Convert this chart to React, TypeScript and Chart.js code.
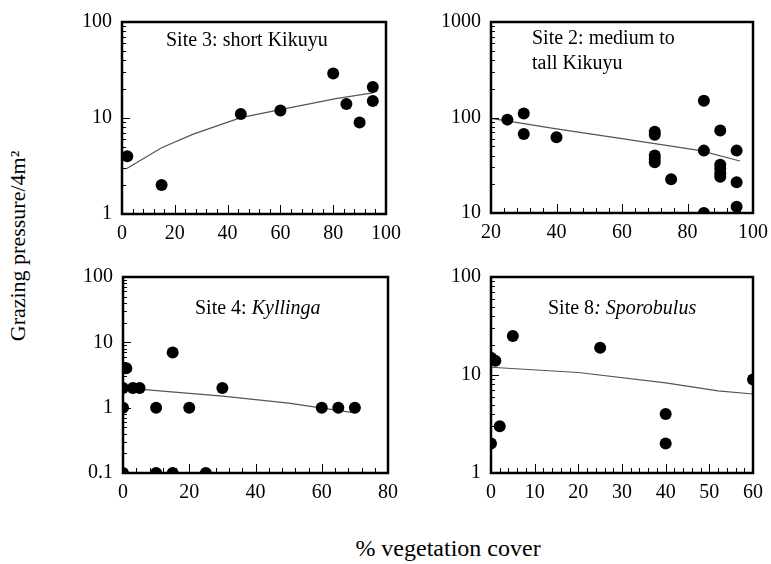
import React, { useEffect, useRef } from "react";
import { Chart, registerables } from "chart.js";

Chart.register(...registerables);

// ---------- data ----------
// Site 3: short Kikuyu
const site3X = [2, 15, 45, 60, 80, 85, 90, 95, 95];
const site3Y = [4, 2, 11, 12, 29, 14, 9, 21, 15];
const site3FitX = [1.5, 15, 27, 45, 60, 81, 95];
const site3FitY = [2.95, 4.9, 6.8, 10.1, 12.2, 15.9, 18.3];
const site3XTicks = [0, 20, 40, 60, 80, 100];
const site3YTicks = [1, 10, 100];

// Site 2: medium to tall Kikuyu
const site2X = [25, 30, 30, 40, 70, 70, 70, 70, 70, 75, 85, 85, 85, 90, 90, 90, 90, 90, 95, 95, 95];
const site2Y = [95, 110, 67, 62, 71, 66, 40, 37, 34, 22.5, 150, 45, 10, 73, 32, 29, 26, 24, 45, 21, 11.6];
const site2FitX = [20, 40, 60, 84, 96];
const site2FitY = [98, 76, 60, 45, 35];
const site2XTicks = [20, 40, 60, 80, 100];
const site2YTicks = [10, 100, 1000];

// Site 4: Kyllinga
const site4X = [1, 0, 0, 3, 5, 10, 15, 20, 30, 60, 65, 70, 0, 10, 15, 25];
const site4Y = [4, 2, 1, 2, 2, 1, 7, 1, 2, 1, 1, 1, 0.1, 0.1, 0.1, 0.1];
const site4FitX = [2, 30, 50, 70];
const site4FitY = [1.98, 1.5, 1.17, 0.83];
const site4XTicks = [0, 20, 40, 60, 80];
const site4YTicks = [0.1, 1, 10, 100];

// Site 8: Sporobulus
const site8X = [0, 1, 0, 2, 5, 25, 40, 40, 60];
const site8Y = [15, 14, 2, 3, 25, 19, 4, 2, 9];
const site8FitX = [0, 20, 40, 52, 60];
const site8FitY = [12, 10.6, 8.3, 6.9, 6.4];
const site8XTicks = [0, 10, 20, 30, 40, 50, 60];
const site8YTicks = [1, 10, 100];

const FONT = '"Liberation Serif", "Times New Roman", serif';

const framePlugin = {
  id: "frame",
  afterDatasetsDraw(chart: any, _args: any, opts: any) {
    const { ctx, chartArea: a, scales } = chart;
    const x = scales.x;
    const y = scales.y;
    ctx.save();
    ctx.strokeStyle = "#000";
    ctx.lineWidth = 1;
    ctx.beginPath();
    const xMinor = opts.xMinor;
    const xMajor = opts.xMajor;
    const n = Math.round((x.max - x.min) / xMinor);
    for (let i = 0; i <= n; i++) {
      const v = x.min + i * xMinor;
      const px = Math.round(x.getPixelForValue(v)) + 0.5;
      const r = (v - x.min) / xMajor;
      const major = Math.abs(r - Math.round(r)) < 1e-6;
      const len = major ? 9 : 5;
      ctx.moveTo(px, a.bottom);
      ctx.lineTo(px, a.bottom - len);
    }
    for (let dec = y.min; dec < y.max * 0.999; dec *= 10) {
      for (let k = 1; k <= 9; k++) {
        const v = dec * k;
        const py = Math.round(y.getPixelForValue(v)) + 0.5;
        const len = k === 1 ? 8 : 4;
        ctx.moveTo(a.left, py);
        ctx.lineTo(a.left + len, py);
      }
    }
    ctx.stroke();
    ctx.lineWidth = 2.5;
    ctx.strokeRect(a.left, a.top, a.right - a.left, a.bottom - a.top);
    ctx.restore();
  },
};

type PanelProps = {
  left: number;
  top: number;
  width: number;
  height: number;
  area: { l: number; t: number; r: number; b: number };
  xs: number[];
  ys: number[];
  fitX: number[];
  fitY: number[];
  xTicks: number[];
  yTicks: number[];
  xMinor: number;
};

function Panel(p: PanelProps) {
  const ref = useRef<HTMLCanvasElement | null>(null);
  useEffect(() => {
    if (!ref.current) return;
    const yAxisW = p.area.l - p.left;
    const xAxisH = p.top + p.height - p.area.b;
    const padTop = p.area.t - p.top;
    const padRight = p.left + p.width - p.area.r;
    const xMin = p.xTicks[0];
    const xMax = p.xTicks[p.xTicks.length - 1];
    const yMin = p.yTicks[0];
    const yMax = p.yTicks[p.yTicks.length - 1];
    const tickFont = { family: FONT, size: 20 };
    const chart = new Chart(ref.current, {
      type: "scatter",
      data: {
        datasets: [
          {
            data: p.xs.map((v, i) => ({ x: v, y: p.ys[i] })),
            showLine: false,
            pointRadius: 6,
            pointBackgroundColor: "#000",
            pointBorderWidth: 0,
            pointHoverRadius: 6,
            clip: 0,
            order: 0,
          },
          {
            data: p.fitX.map((v, i) => ({ x: v, y: p.fitY[i] })),
            showLine: true,
            pointRadius: 0,
            borderColor: "#555",
            borderWidth: 1.2,
            tension: 0,
            clip: 0,
            order: 1,
          },
        ],
      } as any,
      options: {
        responsive: false,
        animation: false,
        events: [],
        layout: { autoPadding: false, padding: { top: padTop, right: padRight, left: 0, bottom: 0 } },
        plugins: {
          legend: { display: false },
          tooltip: { enabled: false },
          frame: { xMinor: p.xMinor, xMajor: p.xTicks[1] - p.xTicks[0] },
        } as any,
        scales: {
          x: {
            type: "linear",
            min: xMin,
            max: xMax,
            afterBuildTicks: (ax: any) => {
              ax.ticks = p.xTicks.map((v) => ({ value: v }));
            },
            afterFit: (s: any) => {
              s.height = xAxisH;
            },
            grid: { display: false, drawTicks: false },
            border: { display: false },
            ticks: {
              font: tickFont,
              color: "#000",
              padding: 8,
              maxRotation: 0,
              autoSkip: false,
              callback: (v: any) => String(v),
            },
          },
          y: {
            type: "logarithmic",
            min: yMin,
            max: yMax,
            afterBuildTicks: (ax: any) => {
              ax.ticks = p.yTicks.map((v) => ({ value: v }));
            },
            afterFit: (s: any) => {
              s.width = yAxisW;
            },
            grid: { display: false, drawTicks: false },
            border: { display: false },
            ticks: {
              font: tickFont,
              color: "#000",
              padding: 10,
              autoSkip: false,
              callback: (v: any) => String(v),
            },
          },
        } as any,
      },
      plugins: [framePlugin],
    });
    return () => chart.destroy();
  }, []);
  return (
    <canvas
      ref={ref}
      width={p.width}
      height={p.height}
      style={{ position: "absolute", left: p.left, top: p.top, width: p.width, height: p.height }}
    />
  );
}

export default function App() {
  const titleStyle: React.CSSProperties = {
    position: "absolute",
    fontSize: 20,
    lineHeight: "25px",
    whiteSpace: "nowrap",
  };
  return (
    <div
      style={{
        position: "absolute",
        left: 0,
        top: 0,
        width: 771,
        height: 564,
        overflow: "hidden",
        background: "#fff",
        fontFamily: FONT,
        color: "#000",
      }}
    >
      <Panel
        left={40}
        top={0}
        width={380}
        height={250}
        area={{ l: 122, t: 19, r: 386, b: 214 }}
        xs={site3X}
        ys={site3Y}
        fitX={site3FitX}
        fitY={site3FitY}
        xTicks={site3XTicks}
        yTicks={site3YTicks}
        xMinor={4}
      />
      <Panel
        left={420}
        top={0}
        width={370}
        height={250}
        area={{ l: 491, t: 17, r: 753, b: 213 }}
        xs={site2X}
        ys={site2Y}
        fitX={site2FitX}
        fitY={site2FitY}
        xTicks={site2XTicks}
        yTicks={site2YTicks}
        xMinor={4}
      />
      <Panel
        left={40}
        top={255}
        width={380}
        height={255}
        area={{ l: 123, t: 277, r: 388, b: 473 }}
        xs={site4X}
        ys={site4Y}
        fitX={site4FitX}
        fitY={site4FitY}
        xTicks={site4XTicks}
        yTicks={site4YTicks}
        xMinor={4}
      />
      <Panel
        left={420}
        top={255}
        width={370}
        height={255}
        area={{ l: 491, t: 277, r: 753, b: 473 }}
        xs={site8X}
        ys={site8Y}
        fitX={site8FitX}
        fitY={site8FitY}
        xTicks={site8XTicks}
        yTicks={site8YTicks}
        xMinor={2}
      />
      <div style={{ ...titleStyle, left: 166, top: 27 }}>Site 3: short Kikuyu</div>
      <div style={{ ...titleStyle, left: 532, top: 25 }}>
        Site 2: medium to
        <br />
        tall Kikuyu
      </div>
      <div style={{ ...titleStyle, left: 195, top: 295 }}>
        Site 4: <i>Kyllinga</i>
      </div>
      <div style={{ ...titleStyle, left: 548, top: 295 }}>
        Site 8<i>: Sporobulus</i>
      </div>
      <div
        style={{
          position: "absolute",
          left: 18,
          top: 246,
          fontSize: 22,
          lineHeight: "26px",
          whiteSpace: "nowrap",
          transform: "translate(-50%, -50%) rotate(-90deg)",
        }}
      >
        Grazing pressure/4m²
      </div>
      <div
        style={{
          position: "absolute",
          left: 448,
          top: 548,
          fontSize: 24,
          lineHeight: "28px",
          whiteSpace: "nowrap",
          transform: "translate(-50%, -50%)",
        }}
      >
        % vegetation cover
      </div>
    </div>
  );
}
